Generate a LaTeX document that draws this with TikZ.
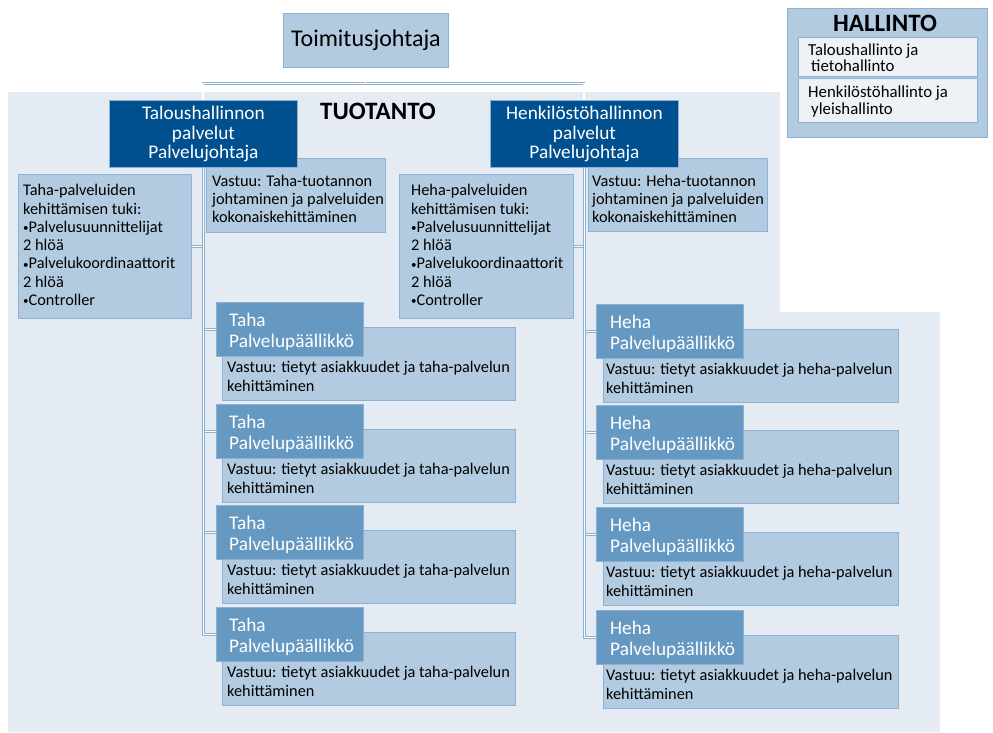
\documentclass[tikz,border=0pt]{standalone}
\usepackage{fontspec}
\setmainfont{Carlito}
\definecolor{panel}{HTML}{E4EBF3}
\definecolor{lightb}{HTML}{B3CBE0}
\definecolor{lightbd}{HTML}{8DB1D5}
\definecolor{midb}{HTML}{6699C2}
\definecolor{darkb}{HTML}{00508F}
\definecolor{paleb}{HTML}{EEF1F6}
\definecolor{connc}{HTML}{8DB1D5}
\newcommand\smbul{\raisebox{0.6pt}{\fontsize{11}{11}\selectfont•}}
\tikzset{
  x=1pt,y=-1pt,
  boxbase/.style={anchor=north west, inner sep=0, line width=0.9pt},
  lbox/.style={boxbase, fill=lightb, draw=lightbd},
  pbox/.style={boxbase, fill=paleb, draw=lightbd},
  mbox/.style={boxbase, fill=midb, draw=lightbd},
  dbox/.style={boxbase, fill=darkb, draw=lightbd},
  bodytxt/.style={anchor=west, inner sep=0, align=left, font=\fontsize{16.3}{18.3}\selectfont, text=black},
  haltxt/.style={anchor=west, inner sep=0, align=left, font=\fontsize{16.8}{16.5}\selectfont, text=black},
  titletxt/.style={anchor=west, inner sep=0, align=left, font=\fontsize{19.3}{21}\selectfont, text=white},
  headtxt/.style={inner sep=0, align=center, font=\fontsize{19.3}{19.5}\selectfont, text=white},
  conn/.style={draw=connc, line width=0.9pt, double=white, double distance=1.1pt},
}
\begin{document}
\begin{tikzpicture}
\useasboundingbox (0,0) rectangle (993,732);
% background panel (L-shaped)
\fill[panel] (8,92) -- (780,92) -- (780,312) -- (940,312) -- (940,732) -- (8,732) -- cycle;

% top
\node[lbox, minimum width=165, minimum height=54] (toim) at (283,13) {};
\node[font=\fontsize{24}{26}\selectfont, inner sep=0] (toimt) at (toim.center) {Toimitusjohtaja};

% HALLINTO
\node[lbox, minimum width=200, minimum height=129] (hal) at (787,8) {};
\node[font=\bfseries\fontsize{25}{26}\selectfont, inner sep=0] (halt) at (885,23) {HALLINTO};
\node[pbox, minimum width=179, minimum height=39] (hal1) at (798,37) {};
\node[pbox, minimum width=179, minimum height=44] (hal2) at (798,78) {};
\node[haltxt] (hal1t) at (808,57.5) {Taloushallinto ja\\\hspace{3pt}tietohallinto};
\node[haltxt] (hal2t) at (808,101.5) {Henkilöstöhallinto ja\\\hspace{3pt}yleishallinto};

\node[font=\bfseries\fontsize{25}{26}\selectfont, inner sep=0] (tuot) at (378,111) {TUOTANTO};

% connectors top
\draw[conn] (toim.south |- hal.west) -- (hal.west);
\coordinate (tal0) at (203,100);
\coordinate (hen0) at (584,100);
\draw[conn] (toim.south) -- ++(0,16) -| (tal0);
\draw[conn] (toim.south) ++(0,16) -| (hen0);

% ---------- Taha side ----------
\node[lbox, minimum width=179, minimum height=74] (vtaha) at (206,158) {};
\node[bodytxt] (vtahat) at (212,199) {Vastuu: Taha-tuotannon\\johtaminen ja palveluiden\\kokonaiskehittäminen};
\node[lbox, minimum width=173, minimum height=144] (stah) at (18,174) {};
\node[bodytxt] (staht) at (23,245) {Taha-palveluiden\\kehittämisen tuki:\\\smbul Palvelusuunnittelijat\\2 hlöä\\\smbul Palvelukoordinaattorit\\2 hlöä\\\smbul Controller};

% ---------- Heha side ----------
\node[lbox, minimum width=179, minimum height=73] (vheha) at (588,158) {};
\node[bodytxt] (vhehat) at (592,199) {Vastuu: Heha-tuotannon\\johtaminen ja palveluiden\\kokonaiskehittäminen};
\node[lbox, minimum width=174, minimum height=144] (sheh) at (399,174) {};
\node[bodytxt] (sheht) at (411,245) {Heha-palveluiden\\kehittämisen tuki:\\\smbul Palvelusuunnittelijat\\2 hlöä\\\smbul Palvelukoordinaattorit\\2 hlöä\\\smbul Controller};

% Taha managers
\foreach \i/\y in {1/302,2/404,3/505,4/607}{
  \node[lbox, minimum width=293, minimum height=73] (tv\i) at (222,\y+25) {};
  \node[bodytxt] (tvt\i) at (227,\y+74.5) {Vastuu: tietyt asiakkuudet ja taha-palvelun\\kehittäminen};
  \node[mbox, minimum width=147, minimum height=54] (tm\i) at (216,\y) {};
  \node[titletxt] (tmt\i) at (229,\y+29.5) {Taha\\Palvelupäällikkö};
}
% Heha managers
\foreach \i/\y in {1/304,2/405,3/507,4/610}{
  \node[lbox, minimum width=295, minimum height=73] (hv\i) at (603,\y+25) {};
  \node[bodytxt] (hvt\i) at (606,\y+74.5) {Vastuu: tietyt asiakkuudet ja heha-palvelun\\kehittäminen};
  \node[mbox, minimum width=147, minimum height=54] (hm\i) at (596,\y) {};
  \node[titletxt] (hmt\i) at (610,\y+29.5) {Heha\\Palvelupäällikkö};
}

% directors
\node[dbox, minimum width=188, minimum height=67] (tal) at (109,100) {};
\node[headtxt] (talt) at (tal.center) {Taloushallinnon\\palvelut\\Palvelujohtaja};
\node[dbox, minimum width=188, minimum height=67] (hen) at (490,100) {};
\node[headtxt] (hent) at (hen.center) {Henkilöstöhallinnon\\palvelut\\Palvelujohtaja};

% vertical trees
\draw[conn] (tal.south |- stah.east) -- (stah.east);
\draw[conn] (hen.south |- sheh.east) -- (sheh.east);
\foreach \i in {1,2,3,4}{
  \draw[conn] (tal.south) |- (tm\i.west);
  \draw[conn] (hen.south) |- (hm\i.west);
}
\end{tikzpicture}
\end{document}
